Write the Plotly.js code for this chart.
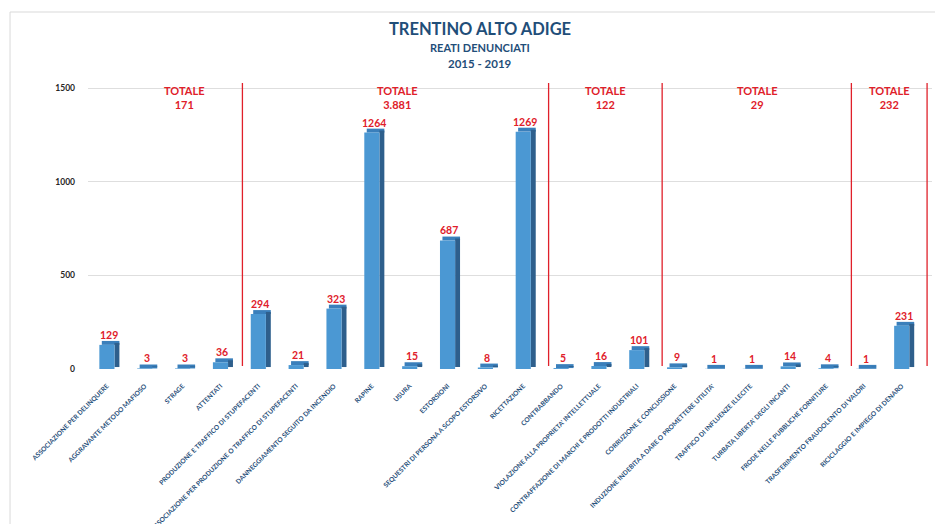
<!DOCTYPE html>
<html>
<head>
<meta charset="utf-8">
<script src="https://cdn.plot.ly/plotly-3.0.1.min.js"></script>
<style>html,body{margin:0;padding:0;background:#fff;}#chart{width:935px;height:524px;}</style>
</head>
<body>
<div id="chart"></div>
<script>
const categories = [
  "ASSOCIAZIONE PER DELINQUERE",
  "AGGRAVANTE METODO MAFIOSO",
  "STRAGE",
  "ATTENTATI",
  "PRODUZIONE E TRAFFICO DI STUPEFACENTI",
  "ASSOCIAZIONE PER PRODUZIONE O TRAFFICO DI STUPEFACENTI",
  "DANNEGGIAMENTO SEGUITO DA INCENDIO",
  "RAPINE",
  "USURA",
  "ESTORSIONI",
  "SEQUESTRI DI PERSONA A SCOPO ESTORSIVO",
  "RICETTAZIONE",
  "CONTRABBANDO",
  "VIOLAZIONE ALLA PROPRIETA' INTELLETTUALE",
  "CONTRAFFAZIONE DI MARCHI E PRODOTTI INDUSTRIALI",
  "CORRUZIONE E CONCUSSIONE",
  "INDUZIONE INDEBITA A DARE O PROMETTERE UTILITA'",
  "TRAFFICO DI INFLUENZE ILLECITE",
  "TURBATA LIBERTA' DEGLI INCANTI",
  "FRODE NELLE PUBBLICHE FORNITURE",
  "TRASFERIMENTO FRAUDOLENTO DI VALORI",
  "RICICLAGGIO E IMPIEGO DI DENARO"
];
const values = [129, 3, 3, 36, 294, 21, 323, 1264, 15, 687, 8, 1269, 5, 16, 101, 9, 1, 1, 14, 4, 1, 231];
const groupSizes = [4, 8, 3, 5, 2];
const groupLabel = "TOTALE";
const yTicks = [0, 500, 1000, 1500];

const titleMain = "TRENTINO ALTO ADIGE";
const titleSub = "REATI DENUNCIATI";
const titlePeriod = "2015 - 2019";

// ---- styling ----
const FONT = "Lato, 'Open Sans', sans-serif";
const RED = "#e0202a";
const BLUE_FRONT = "#4b98d3";
const BLUE_TOP = "#3a7fbb";
const BLUE_SIDE = "#2e5f8c";
const DEPTH_X = 0.13;   // category units (~5px)
const DEPTH_Y = 21;     // value units (~4px)
const idx = categories.map((_, i) => i);
const depthArr = values.map(() => DEPTH_Y);

function fmtIt(n) {
  return String(n).replace(/\B(?=(\d{3})+(?!\d))/g, ".");
}

const traces = [
  { // top face
    type: "bar", x: idx, y: depthArr, base: values,
    width: 0.4 + DEPTH_X * 0.5, offset: -0.2 + DEPTH_X * 0.5,
    marker: { color: BLUE_TOP, line: { width: 0 } },
    hoverinfo: "skip", showlegend: false
  },
  { // side face
    type: "bar", x: idx, y: values, base: DEPTH_Y * 0.5,
    width: DEPTH_X, offset: 0.2,
    marker: { color: BLUE_SIDE, line: { width: 0 } },
    hoverinfo: "skip", showlegend: false
  },
  { // front face
    type: "bar", x: idx, y: values,
    width: 0.4, offset: -0.2,
    marker: { color: BLUE_FRONT, line: { width: 0 } },
    showlegend: false
  }
];

const annotations = [];
values.forEach((v, i) => {
  annotations.push({
    x: i + 0.05, y: v, xref: "x", yref: "y", yanchor: "bottom",
    yshift: 2, showarrow: false, text: "<b>" + v + "</b>",
    font: { family: FONT, size: 10.5, color: RED }
  });
});

const shapes = [];
let start = 0;
groupSizes.forEach((n, g) => {
  const end = start + n;
  const boundary = end - 0.5 + (g === 0 ? 0.08 : 0.17);
  const left = g === 0 ? 0.5 : start - 0.5 + 0.17;
  const total = values.slice(start, end).reduce((a, b) => a + b, 0);
  shapes.push({
    type: "line", xref: "x", yref: "paper", x0: boundary, x1: boundary,
    y0: 0.01, y1: 0.99, line: { color: RED, width: 1.3 }
  });
  annotations.push({
    x: (left + boundary) / 2, y: 1, xref: "x", yref: "paper", yanchor: "top",
    yshift: -2, showarrow: false,
    text: "<b>" + groupLabel + "<br>" + fmtIt(total) + "</b>",
    font: { family: FONT, size: 11, color: RED }
  });
  start = end;
});

// subtitle lines
const PLOT_L = 88, PLOT_W = 844.4, PLOT_B = 369, PLOT_H = 289;
function px2paperX(px) { return (px - PLOT_L) / PLOT_W; }
function px2paperY(py) { return (PLOT_B - py) / PLOT_H; }
annotations.push({
  x: px2paperX(480), y: px2paperY(47), xref: "paper", yref: "paper",
  xanchor: "center", yanchor: "middle", showarrow: false,
  text: "<b>" + titleSub + "</b>", font: { family: FONT, size: 11, color: "#1f4e79" }
});
annotations.push({
  x: px2paperX(480), y: px2paperY(63), xref: "paper", yref: "paper",
  xanchor: "center", yanchor: "middle", showarrow: false,
  text: "<b>" + titlePeriod + "</b>", font: { family: FONT, size: 11.5, color: "#1f4e79" }
});

// outer chart frame
shapes.push({
  type: "rect", xref: "paper", yref: "paper", x0: px2paperX(10), x1: 1.2,
  y0: -0.8, y1: px2paperY(12), line: { color: "#d9d9d9", width: 1 }, layer: "below"
});

const layout = {
  width: 935, height: 524,
  margin: { l: PLOT_L, r: 935 - PLOT_L - PLOT_W, t: 80, b: 524 - PLOT_B },
  paper_bgcolor: "#ffffff", plot_bgcolor: "#ffffff",
  barmode: "overlay",
  title: {
    text: "<b>" + titleMain + "</b>",
    font: { family: FONT, size: 16.5, color: "#1f4e79" },
    x: 480 / 935, xanchor: "center", xref: "container",
    y: 1 - 29 / 524, yanchor: "middle", yref: "container"
  },
  xaxis: {
    range: [-0.5, 21.8],
    tickmode: "array", tickvals: idx, ticktext: categories,
    tickangle: -45, ticks: "", showgrid: false, zeroline: false, showline: false,
    ticklabelstandoff: 11,
    tickfont: { family: FONT, size: 6.6, color: "#1f4e79", weight: "bold" }
  },
  yaxis: {
    range: [0, 1545], tickmode: "array", tickvals: yTicks,
    showgrid: true, gridcolor: "#dedede", gridwidth: 1,
    zeroline: false, showline: false, ticks: "",
    ticklabelstandoff: 12,
    tickfont: { family: FONT, size: 8.5, color: "#262626", weight: "bold" }
  },
  annotations: annotations,
  shapes: shapes,
  showlegend: false
};

Plotly.newPlot("chart", traces, layout, { displayModeBar: false, staticPlot: true });
</script>
</body>
</html>
